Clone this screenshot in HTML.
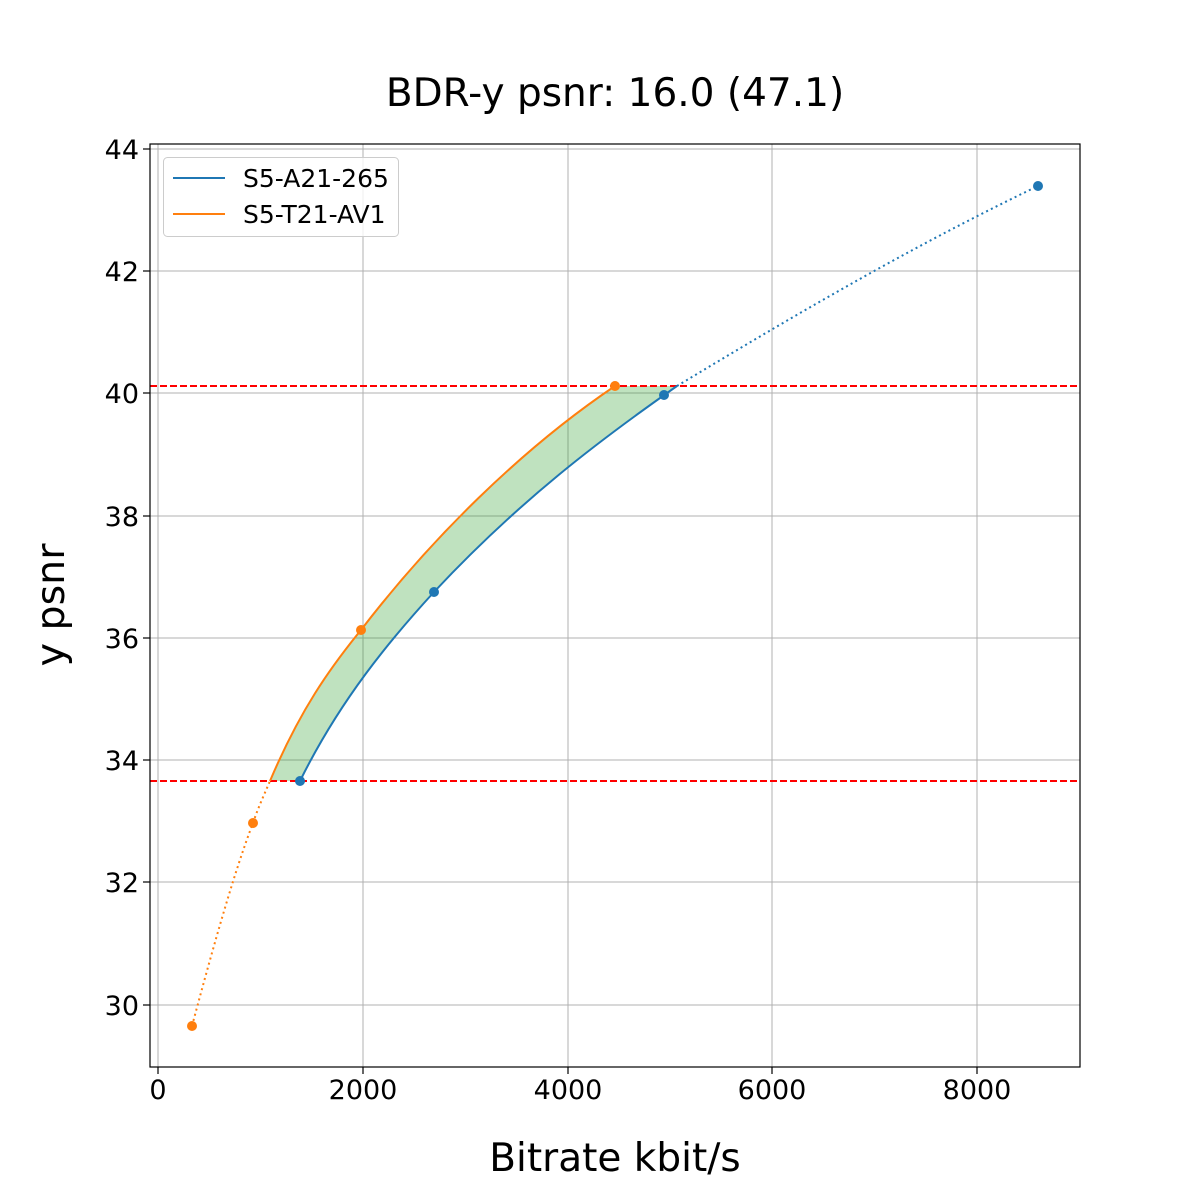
<!DOCTYPE html>
<html><head><meta charset="utf-8"><style>
html,body{margin:0;padding:0;background:#fff;}
svg{display:block;font-family:"DejaVu Sans","Liberation Sans",sans-serif;}
</style></head><body>
<svg width="1200" height="1200" viewBox="0 0 1200 1200" xmlns="http://www.w3.org/2000/svg">
<rect width="1200" height="1200" fill="#fff"/>
<g stroke="#b0b0b0" stroke-width="1">
<line x1="158" y1="144" x2="158" y2="1067"/>
<line x1="363" y1="144" x2="363" y2="1067"/>
<line x1="568" y1="144" x2="568" y2="1067"/>
<line x1="772" y1="144" x2="772" y2="1067"/>
<line x1="977" y1="144" x2="977" y2="1067"/>
<line x1="150" y1="149" x2="1080" y2="149"/>
<line x1="150" y1="271" x2="1080" y2="271"/>
<line x1="150" y1="393" x2="1080" y2="393"/>
<line x1="150" y1="516" x2="1080" y2="516"/>
<line x1="150" y1="638" x2="1080" y2="638"/>
<line x1="150" y1="760" x2="1080" y2="760"/>
<line x1="150" y1="882" x2="1080" y2="882"/>
<line x1="150" y1="1005" x2="1080" y2="1005"/>
</g>
<path d="M270,781 C300,710 330,668 361,630 C430,540 520,450 615,386 L677,386 C600,440 520,500 434,592 C390,640 340,700 300,781 Z" fill="#2ca02c" fill-opacity="0.3"/>
<line x1="150" y1="386" x2="1080" y2="386" stroke="#ff0000" stroke-width="2" stroke-dasharray="7,3"/>
<line x1="150" y1="781" x2="1080" y2="781" stroke="#ff0000" stroke-width="2" stroke-dasharray="7,3"/>
<path d="M677,386 C790,318 905,250 1038,186" fill="none" stroke="#1f77b4" stroke-width="2" stroke-dasharray="2,3.3"/>
<path d="M192,1026 C215,940 235,870 253,823 C258,808 264,795 270,781" fill="none" stroke="#ff7f0e" stroke-width="2" stroke-dasharray="2,3.3"/>
<path d="M300,781 C340,700 390,640 434,592 C520,500 600,440 677,386" fill="none" stroke="#1f77b4" stroke-width="2"/>
<path d="M270,781 C300,710 330,668 361,630 C430,540 520,450 615,386" fill="none" stroke="#ff7f0e" stroke-width="2"/>
<g fill="#1f77b4"><circle cx="300" cy="781" r="5"/><circle cx="434" cy="592" r="5"/><circle cx="664" cy="395" r="5"/><circle cx="1038" cy="186" r="5"/></g>
<g fill="#ff7f0e"><circle cx="192" cy="1026" r="5"/><circle cx="253" cy="823" r="5"/><circle cx="361" cy="630" r="5"/><circle cx="615" cy="386" r="5"/></g>
<rect x="150" y="144" width="930" height="923" fill="none" stroke="#000" stroke-width="1.2"/>
<g stroke="#000" stroke-width="1.2">
<line x1="158" y1="1067" x2="158" y2="1074"/><line x1="363" y1="1067" x2="363" y2="1074"/><line x1="568" y1="1067" x2="568" y2="1074"/><line x1="772" y1="1067" x2="772" y2="1074"/><line x1="977" y1="1067" x2="977" y2="1074"/>
<line x1="143" y1="149" x2="150" y2="149"/><line x1="143" y1="271" x2="150" y2="271"/><line x1="143" y1="393" x2="150" y2="393"/><line x1="143" y1="516" x2="150" y2="516"/><line x1="143" y1="638" x2="150" y2="638"/><line x1="143" y1="760" x2="150" y2="760"/><line x1="143" y1="882" x2="150" y2="882"/><line x1="143" y1="1005" x2="150" y2="1005"/>
</g>
<g font-size="27" fill="#000" text-anchor="middle">
<text x="158" y="1099">0</text><text x="363" y="1099">2000</text><text x="568" y="1099">4000</text><text x="772" y="1099">6000</text><text x="977" y="1099">8000</text>
</g>
<g font-size="27" fill="#000" text-anchor="end">
<text x="139" y="159">44</text><text x="139" y="281">42</text><text x="139" y="403">40</text><text x="139" y="526">38</text><text x="139" y="648">36</text><text x="139" y="770">34</text><text x="139" y="892">32</text><text x="139" y="1015">30</text>
</g>
<text x="615" y="106" font-size="39" text-anchor="middle">BDR-y psnr: 16.0 (47.1)</text>
<text x="615" y="1171" font-size="39" text-anchor="middle">Bitrate kbit/s</text>
<text transform="translate(64,605) rotate(-90)" font-size="39.5" text-anchor="middle">y psnr</text>
<rect x="163.5" y="157.5" width="235" height="79" rx="4" fill="#fff" fill-opacity="0.8" stroke="#ccc"/>
<line x1="173" y1="178" x2="225" y2="178" stroke="#1f77b4" stroke-width="2"/>
<line x1="173" y1="214" x2="225" y2="214" stroke="#ff7f0e" stroke-width="2"/>
<g font-size="25" fill="#000"><text x="243" y="187">S5-A21-265</text><text x="243" y="223">S5-T21-AV1</text></g>
</svg>
</body></html>
